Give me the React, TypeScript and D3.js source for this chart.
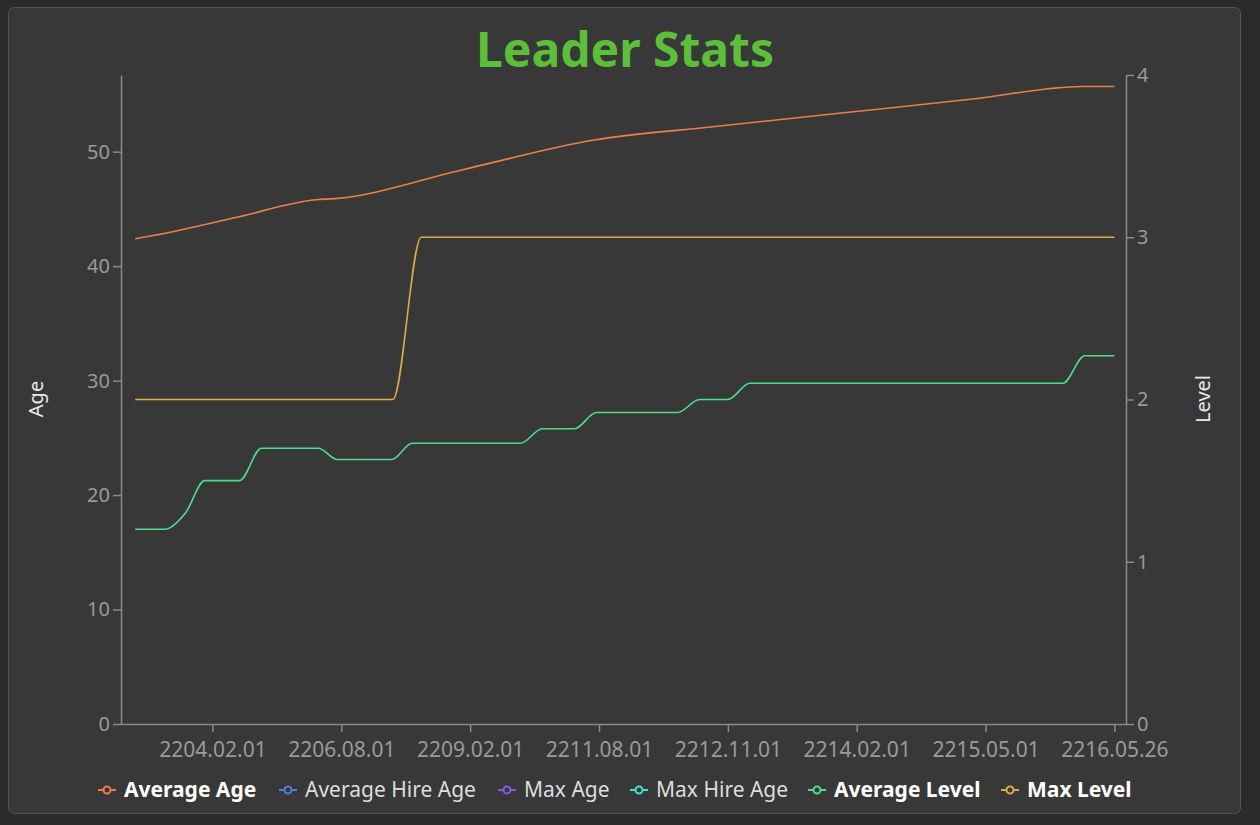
import React, { useEffect, useRef } from 'react';
import * as d3 from 'd3';

type Pt = [number, number];

// x is measured in steps; one tick label every 10 steps
const tickLabels = ['2204.02.01', '2206.08.01', '2209.02.01', '2211.08.01', '2212.11.01', '2214.02.01', '2215.05.01', '2216.05.26'];
const tickSteps = [6, 16, 26, 36, 46, 56, 66, 76];

const averageAge: Pt[] = [
  [0, 42.4], [1.5, 42.7], [8, 44.3], [14, 45.8], [15.5, 45.9], [25.5, 48.45], [35.5, 51],
  [45, 52.2], [55, 53.4], [65, 54.6], [73.5, 55.7], [76, 55.7],
];
const maxLevel: Pt[] = [[0, 2], [20, 2], [22.2, 3], [76, 3]];
const averageLevel: Pt[] = [
  [0, 1.2], [2.3, 1.2], [3.9, 1.3], [5.4, 1.5], [8.1, 1.5], [9.8, 1.7], [14.2, 1.7], [15.7, 1.63],
  [19.9, 1.63], [21.5, 1.73], [29.9, 1.73], [31.6, 1.82], [34.1, 1.82], [35.8, 1.92], [42.1, 1.92],
  [43.8, 2.0], [46, 2.0], [47.7, 2.1], [72, 2.1], [73.7, 2.27], [76, 2.27],
];

const legend = [
  { name: 'Average Age', color: '#e8804a', on: true, x: 98 },
  { name: 'Average Hire Age', color: '#4a7fe0', on: false, x: 279 },
  { name: 'Max Age', color: '#8a55e0', on: false, x: 498 },
  { name: 'Max Hire Age', color: '#45e0d0', on: false, x: 630 },
  { name: 'Average Level', color: '#4ade8a', on: true, x: 808 },
  { name: 'Max Level', color: '#e0aa40', on: true, x: 1001 },
];

export default function App() {
  const ref = useRef<SVGSVGElement>(null);

  useEffect(() => {
    const svg = d3.select(ref.current);
    svg.selectAll('*').remove();
    const font = "'Noto Sans', sans-serif";

    svg.append('rect').attr('width', 1260).attr('height', 825).attr('fill', '#2b2b2b');
    svg.append('rect').attr('x', 8.5).attr('y', 7.5).attr('width', 1232).attr('height', 806)
      .attr('rx', 6).attr('fill', '#383838').attr('stroke', '#555');

    svg.append('text').attr('x', 625).attr('y', 67).attr('text-anchor', 'middle')
      .attr('font-family', font).attr('font-weight', 'bold').attr('font-size', 48)
      .attr('fill', '#5cbf3a').text('Leader Stats');

    const x = d3.scaleLinear().domain([-1.1, 76.9]).range([121, 1126]);
    const yAge = d3.scaleLinear().domain([0, 56.7]).range([724, 75]);
    const yLvl = d3.scaleLinear().domain([0, 4]).range([724, 75]);

    const styleAxis = (g: d3.Selection<SVGGElement, unknown, null, undefined>) => {
      g.selectAll('path,line').attr('stroke', '#8a8a8a').attr('stroke-width', 1.5);
      g.selectAll('text').attr('fill', '#9a9a9a').attr('font-family', font).attr('font-size', 20);
    };

    const gx = svg.append('g').attr('transform', 'translate(0,724)')
      .call(d3.axisBottom(x).tickValues(tickSteps).tickFormat((_, i) => tickLabels[i]).tickSize(8).tickSizeOuter(0));
    styleAxis(gx);
    gx.selectAll('text').attr('dy', '1.05em').attr('font-size', 21);

    const gl = svg.append('g').attr('transform', 'translate(121,0)')
      .call(d3.axisLeft(yAge).tickValues([0, 10, 20, 30, 40, 50]).tickSize(8).tickSizeOuter(0));
    styleAxis(gl);
    const gr = svg.append('g').attr('transform', 'translate(1126,0)')
      .call(d3.axisRight(yLvl).ticks(4).tickSize(8).tickSizeOuter(0));
    styleAxis(gr);

    svg.append('text').attr('transform', 'translate(43,399) rotate(-90)').attr('text-anchor', 'middle')
      .attr('font-family', font).attr('font-size', 20).attr('fill', '#e8e8e8').text('Age');
    svg.append('text').attr('transform', 'translate(1210,399) rotate(-90)').attr('text-anchor', 'middle')
      .attr('font-family', font).attr('font-size', 20).attr('fill', '#e8e8e8').text('Level');

    const lineAge = d3.line<Pt>().x(d => x(d[0])).y(d => yAge(d[1])).curve(d3.curveMonotoneX);
    const lineLvl = d3.line<Pt>().x(d => x(d[0])).y(d => yLvl(d[1])).curve(d3.curveMonotoneX);

    svg.append('path').attr('d', lineAge(averageAge)).attr('fill', 'none').attr('stroke', '#e8804a').attr('stroke-width', 1.6);
    svg.append('path').attr('d', lineLvl(maxLevel)).attr('fill', 'none').attr('stroke', '#e0aa40').attr('stroke-width', 1.6);
    svg.append('path').attr('d', lineLvl(averageLevel)).attr('fill', 'none').attr('stroke', '#4ade8a').attr('stroke-width', 1.6);

    const lg = svg.append('g').selectAll('g').data(legend).join('g')
      .attr('transform', d => `translate(${d.x},790)`);
    lg.append('line').attr('x1', 0).attr('x2', 18).attr('stroke', d => d.color).attr('stroke-width', 2);
    lg.append('circle').attr('cx', 9).attr('r', 3.5).attr('fill', '#383838').attr('stroke', d => d.color).attr('stroke-width', 2);
    lg.append('text').attr('x', 26).attr('dy', '0.35em').attr('font-family', font).attr('font-size', 21)
      .attr('font-weight', d => (d.on ? 'bold' : 'normal')).attr('fill', d => (d.on ? '#ffffff' : '#dddddd'))
      .text(d => d.name);
  }, []);

  return <svg ref={ref} width={1260} height={825} style={{ position: 'absolute', left: 0, top: 0 }} />;
}
